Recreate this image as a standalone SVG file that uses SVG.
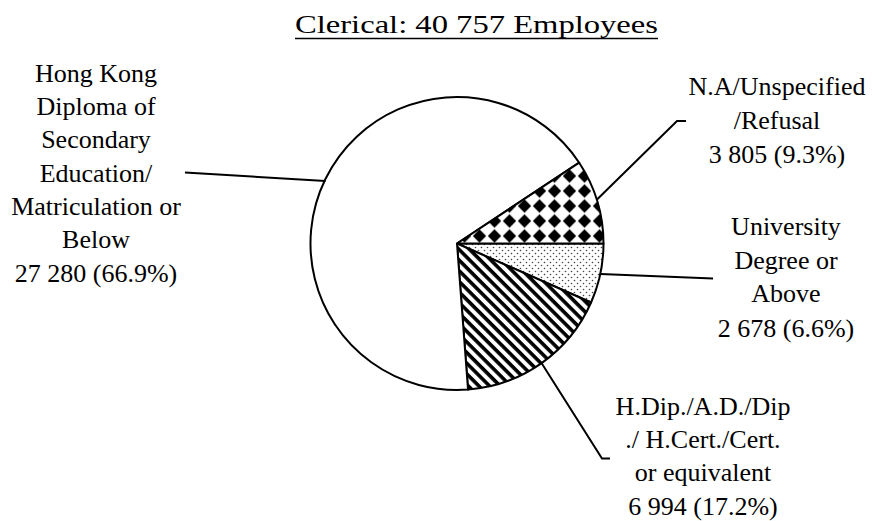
<svg xmlns="http://www.w3.org/2000/svg" width="872" height="521" viewBox="0 0 872 521">
<style>
text{font-family:"Liberation Serif","Times New Roman",serif;font-size:26px;fill:#000;text-anchor:middle}
.slice{stroke:#000;stroke-width:2;stroke-linejoin:round}
.lead{fill:none;stroke:#000;stroke-width:2}
</style>
<defs>
<pattern id="diamonds" patternUnits="userSpaceOnUse" width="15" height="15" x="457" y="243.5">
<rect width="15" height="15" fill="#fff"/>
<path d="M7.5,0.8 L14.2,7.5 L7.5,14.2 L0.8,7.5 Z" fill="#000"/>
</pattern>
<pattern id="dots" patternUnits="userSpaceOnUse" width="6" height="6">
<rect width="6" height="6" fill="#fff"/>
<circle cx="1.5" cy="1.5" r="0.8" fill="#444"/>
<circle cx="4.5" cy="4.5" r="0.8" fill="#444"/>
</pattern>
<pattern id="stripes" patternUnits="userSpaceOnUse" width="20" height="7.5" patternTransform="rotate(45)">
<rect width="20" height="7.5" fill="#fff"/>
<rect width="20" height="3.6" fill="#000"/>
</pattern>
</defs>
<g id="title">
<text x="476.5" y="33" font-size="29" textLength="363" lengthAdjust="spacingAndGlyphs">Clerical:  40 757 Employees</text>
<line x1="295" y1="38.5" x2="658" y2="38.5" stroke="#000" stroke-width="1.5"/>
</g>
<g id="pie">
<g id="slice-university"><path class="slice" fill="url(#dots)" d="M457,243.5 L603.5,243.5 A146.5,146.5 0 0 1 591.08,302.52 Z"/></g>
<g id="slice-hdip"><path class="slice" fill="url(#stripes)" d="M457,243.5 L591.08,302.52 A146.5,146.5 0 0 1 468.04,389.58 Z"/></g>
<g id="slice-hkdse"><path class="slice" fill="#fff" d="M457,243.5 L468.04,389.58 A146.5,146.5 0 1 1 579.19,162.69 Z"/></g>
<g id="slice-na"><path class="slice" fill="url(#diamonds)" d="M457,243.5 L579.19,162.69 A146.5,146.5 0 0 1 603.5,243.5 Z"/></g>
</g>
<g id="connectors">
<polyline class="lead" points="185,172.5 325.5,181"/>
<polyline class="lead" points="596.5,200 677,121 686,121"/>
<polyline class="lead" points="600.5,274 713,278.5"/>
<polyline class="lead" points="541.5,363 602,458.5 610,458.5"/>
</g>
<g id="label-hkdse">
<text x="96" y="81.7">Hong Kong</text>
<text x="96" y="115">Diploma of</text>
<text x="96" y="148.3">Secondary</text>
<text x="96" y="181.6">Education/</text>
<text x="96" y="214.9">Matriculation or</text>
<text x="96" y="248.2">Below</text>
<text x="96" y="281.5">27 280 (66.9%)</text>
</g>
<g id="label-na">
<text x="777" y="95">N.A/Unspecified</text>
<text x="777" y="129">/Refusal</text>
<text x="777" y="163">3 805 (9.3%)</text>
</g>
<g id="label-university">
<text x="786" y="235">University</text>
<text x="786" y="268.5">Degree or</text>
<text x="786" y="302">Above</text>
<text x="786" y="336.5">2 678 (6.6%)</text>
</g>
<g id="label-hdip">
<text x="703" y="415">H.Dip./A.D./Dip</text>
<text x="703" y="448">./ H.Cert./Cert.</text>
<text x="703" y="481">or equivalent</text>
<text x="703" y="514.5">6 994 (17.2%)</text>
</g>
</svg>
